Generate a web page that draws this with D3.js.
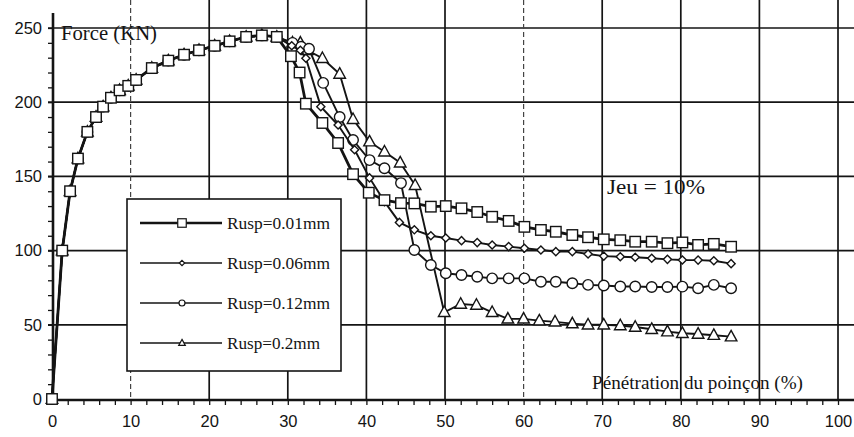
<!DOCTYPE html>
<html>
<head>
<meta charset="utf-8">
<script src="https://cdn.jsdelivr.net/npm/d3@7"></script>
<style>
  body { margin: 0; background: #fff; }
  svg { display: block; }
</style>
</head>
<body>
<div id="chart"></div>
<script>

// common loading branch (all four curves overlap here)
var riseData = [[0, 0], [1.3, 100], [2.3, 140], [3.3, 162], [4.5, 180], [5.6, 190], [6.5, 197],
  [7.5, 203], [8.6, 208], [9.7, 211], [10.7, 215], [12.7, 223], [14.8, 228], [16.8, 232],
  [18.7, 235], [20.7, 238], [22.6, 241], [24.7, 244], [26.7, 245], [28.6, 244]];

var rusp001 = [[30.4, 231], [31.5, 220], [32.3, 199], [34.4, 186], [36.4, 172.5], [38.3, 151.5],
  [40.3, 139], [42.3, 134], [44.4, 132], [46.1, 131.8], [48.2, 129.6], [50.1, 130], [52.1, 128.5],
  [54.1, 126], [56, 122.8], [58.1, 120], [60.1, 116], [62.2, 113.9], [64.1, 112.7], [66.2, 110.5],
  [68.2, 109], [70.2, 107.6], [72.3, 107], [74.2, 106], [76.3, 106], [78.3, 105], [80.2, 105.5],
  [82.2, 103.8], [84.2, 104.5], [86.4, 102.6]];

var rusp006 = [[30.5, 238], [31.6, 235], [32.3, 229.6], [34.2, 197], [36.4, 184.6], [38.5, 168],
  [40.4, 149], [42.3, 133], [44.2, 119], [46.1, 114], [48.2, 110], [50.1, 108.5], [52.1, 106.7],
  [54.1, 105.4], [56, 103.8], [58.1, 102.7], [60.1, 101.6], [62.2, 100.4], [64.1, 99.3], [66.2, 99.3],
  [68.2, 97.7], [70.2, 96.3], [72.3, 95.9], [74.2, 95.5], [76.3, 94.8], [78.3, 94.1], [80.2, 93.7],
  [82.2, 93.6], [84.2, 93.2], [86.4, 91.2]];

var rusp012 = [[30.6, 240], [31.7, 237.4], [32.7, 236], [34.5, 213], [36.6, 190], [38.3, 174.5],
  [40.4, 161], [42.3, 155.5], [44.4, 145.5], [46.1, 100.4], [48.2, 90.3], [50.1, 84.7], [52.1, 83.6],
  [54.1, 82.4], [56, 81.3], [58.1, 81.3], [60.1, 81.3], [62.2, 79], [64.1, 79], [66.2, 78],
  [68.2, 76.9], [70.2, 76.5], [72.3, 75.8], [74.2, 75.8], [76.3, 75.5], [78.3, 75.5], [80.2, 75.7],
  [82.2, 74.6], [84.2, 76.9], [86.4, 74.6]];

var rusp02 = [[30.6, 240], [31.6, 240], [32.5, 235], [34.4, 229.6], [36.6, 219], [38.3, 188.5],
  [40.4, 173.4], [42.3, 166.6], [44.3, 159.2], [46.2, 144], [49.9, 58.4], [52, 64], [54, 63.3],
  [56, 58.4], [58, 54], [60, 54], [62, 52.8], [64, 52], [66.2, 50.8], [68.2, 50], [70.2, 50],
  [72.3, 49.5], [74.2, 48.5], [76.3, 47], [78.3, 45.4], [80.2, 44.3], [82.2, 43.8], [84.2, 43],
  [86.4, 42]];

var seriesNames = ["Rusp=0.01mm", "Rusp=0.06mm", "Rusp=0.12mm", "Rusp=0.2mm"];
var seriesTails = [rusp001, rusp006, rusp012, rusp02];
var seriesMarks = ["square", "diamond", "circle", "triangle"];

var xTicks = [0, 10, 20, 30, 40, 50, 60, 70, 80, 90, 100];
var yTicks = [0, 50, 100, 150, 200, 250];

var width = 854, height = 437;

var svg = d3.select("#chart").append("svg")
  .attr("width", width)
  .attr("height", height);

var xScale = d3.scaleLinear().domain([0, 100]).range([52, 838]);
var yScale = d3.scaleLinear().domain([0, 250]).range([399, 28]);

var ink = "#141414";
var serif = "'Liberation Serif', 'Times New Roman', serif";

// grid
svg.append("g").selectAll("line")
  .data(yTicks.filter(d => d > 0))
  .enter().append("line")
  .attr("x1", 48).attr("x2", width)
  .attr("y1", d => yScale(d)).attr("y2", d => yScale(d))
  .attr("stroke", ink).attr("stroke-width", 1.7);

svg.append("g").selectAll("line")
  .data(xTicks.filter(d => d > 0))
  .enter().append("line")
  .attr("x1", d => xScale(d)).attr("x2", d => xScale(d))
  .attr("y1", 0).attr("y2", yScale(0))
  .attr("stroke", d => (d == 10 || d == 60) ? "#444" : ink)
  .attr("stroke-width", d => (d == 10 || d == 60) ? 1.2 : 1.7)
  .attr("stroke-dasharray", d => (d == 10 || d == 60) ? "5,3" : null);

// minor ticks
var yMinor = d3.axisLeft(yScale).tickValues(d3.range(0, 251, 10)).tickSize(5).tickFormat("");
svg.append("g").attr("transform", "translate(" + 53 + ",0)").call(yMinor)
  .call(g => g.select(".domain").remove())
  .selectAll("line").attr("stroke", ink).attr("stroke-width", 1.3);

var xMinor = d3.axisBottom(xScale).tickValues(d3.range(0, 101, 2)).tickSize(5).tickFormat("");
svg.append("g").attr("transform", "translate(0," + 400 + ")").call(xMinor)
  .call(g => g.select(".domain").remove())
  .selectAll("line").attr("stroke", ink).attr("stroke-width", 1.3);

// axis lines
svg.append("line").attr("x1", 53).attr("x2", 53).attr("y1", 13).attr("y2", 401)
  .attr("stroke", ink).attr("stroke-width", 2.6);
svg.append("line").attr("x1", 50).attr("x2", width).attr("y1", 400).attr("y2", 400)
  .attr("stroke", ink).attr("stroke-width", 2.6);

// tick labels
var yAxis = d3.axisLeft(yScale).tickValues(yTicks).tickSize(0).tickPadding(11);
svg.append("g").attr("transform", "translate(53,0)").call(yAxis)
  .call(g => g.select(".domain").remove())
  .selectAll("text")
  .style("font-family", "'Liberation Sans', Arial, sans-serif")
  .style("font-size", "16.5px").attr("fill", ink);

var xAxis = d3.axisBottom(xScale).tickValues(xTicks).tickSize(0).tickPadding(15);
svg.append("g").attr("transform", "translate(0,400)").call(xAxis)
  .call(g => g.select(".domain").remove())
  .selectAll("text")
  .style("font-family", "'Liberation Sans', Arial, sans-serif")
  .style("font-size", "16.5px").attr("fill", ink);

// marker drawing
function drawMark(g, type, cx, cy, s) {
  if (type == "square") {
    g.append("rect").attr("x", cx - 5 * s).attr("y", cy - 5 * s)
      .attr("width", 10 * s).attr("height", 10 * s);
  } else if (type == "circle") {
    g.append("circle").attr("cx", cx).attr("cy", cy).attr("r", 5 * s);
  } else if (type == "triangle") {
    g.append("path").attr("d", "M" + cx + "," + (cy - 6 * s) + "L" + (cx + 5.5 * s) + "," + (cy + 4 * s) +
      "L" + (cx - 5.5 * s) + "," + (cy + 4 * s) + "Z");
  } else {
    g.append("path").attr("d", "M" + cx + "," + (cy - 4.5 * s) + "L" + (cx + 4.5 * s) + "," + cy +
      "L" + cx + "," + (cy + 4.5 * s) + "L" + (cx - 4.5 * s) + "," + cy + "Z");
  }
}

var line = d3.line()
  .x(d => xScale(d[0]))
  .y(d => yScale(d[1]));

// draw series, last one first so squares sit on top of the common branch
for (var i = seriesTails.length - 1; i >= 0; i--) {
  var pts = riseData.concat(seriesTails[i]);
  var g = svg.append("g");
  g.append("path")
    .datum(pts)
    .attr("d", line)
    .attr("fill", "none")
    .attr("stroke", ink)
    .attr("stroke-width", i == 0 ? 2.8 : 1.9);
  var mg = g.append("g").attr("fill", "#fff").attr("stroke", ink).attr("stroke-width", 1.4);
  pts.forEach(function(p) {
    drawMark(mg, seriesMarks[i], xScale(p[0]), yScale(p[1]), seriesMarks[i] == "diamond" ? 0.9 : 1.05);
  });
}

// legend
var legend = svg.append("g");
legend.append("rect")
  .attr("x", 127).attr("y", 199).attr("width", 214).attr("height", 172)
  .attr("fill", "#fff").attr("stroke", ink).attr("stroke-width", 1.6);

seriesNames.forEach(function(name, i) {
  var ly = 223 + i * 40;
  legend.append("line").attr("x1", 140).attr("x2", 222).attr("y1", ly).attr("y2", ly)
    .attr("stroke", ink).attr("stroke-width", i == 0 ? 2.6 : 1.5);
  var mg = legend.append("g").attr("fill", "#fff").attr("stroke", ink).attr("stroke-width", 1.2);
  drawMark(mg, seriesMarks[i], 182, ly, i == 0 ? 0.85 : 0.6);
  legend.append("text")
    .attr("x", 227).attr("y", ly + 6)
    .style("font-family", serif)
    .style("font-size", "17.5px")
    .attr("textLength", i == 3 ? 93 : 103)
    .attr("lengthAdjust", "spacingAndGlyphs")
    .attr("fill", ink)
    .text(name);
});

// titles
svg.append("text").attr("x", 61).attr("y", 40)
  .style("font-family", serif)
  .style("font-size", "20px").attr("textLength", 96).attr("lengthAdjust", "spacingAndGlyphs")
  .attr("fill", ink)
  .text("Force (KN)");

svg.append("text").attr("x", 607).attr("y", 194)
  .style("font-family", serif)
  .style("font-size", "20px").attr("textLength", 98).attr("lengthAdjust", "spacingAndGlyphs")
  .attr("fill", ink)
  .text("Jeu = 10%");

svg.append("text").attr("x", 592).attr("y", 389)
  .style("font-family", serif)
  .style("font-size", "19.5px").attr("textLength", 211).attr("lengthAdjust", "spacingAndGlyphs")
  .attr("fill", ink)
  .text("Pénétration du poinçon (%)");

</script>
</body>
</html>
